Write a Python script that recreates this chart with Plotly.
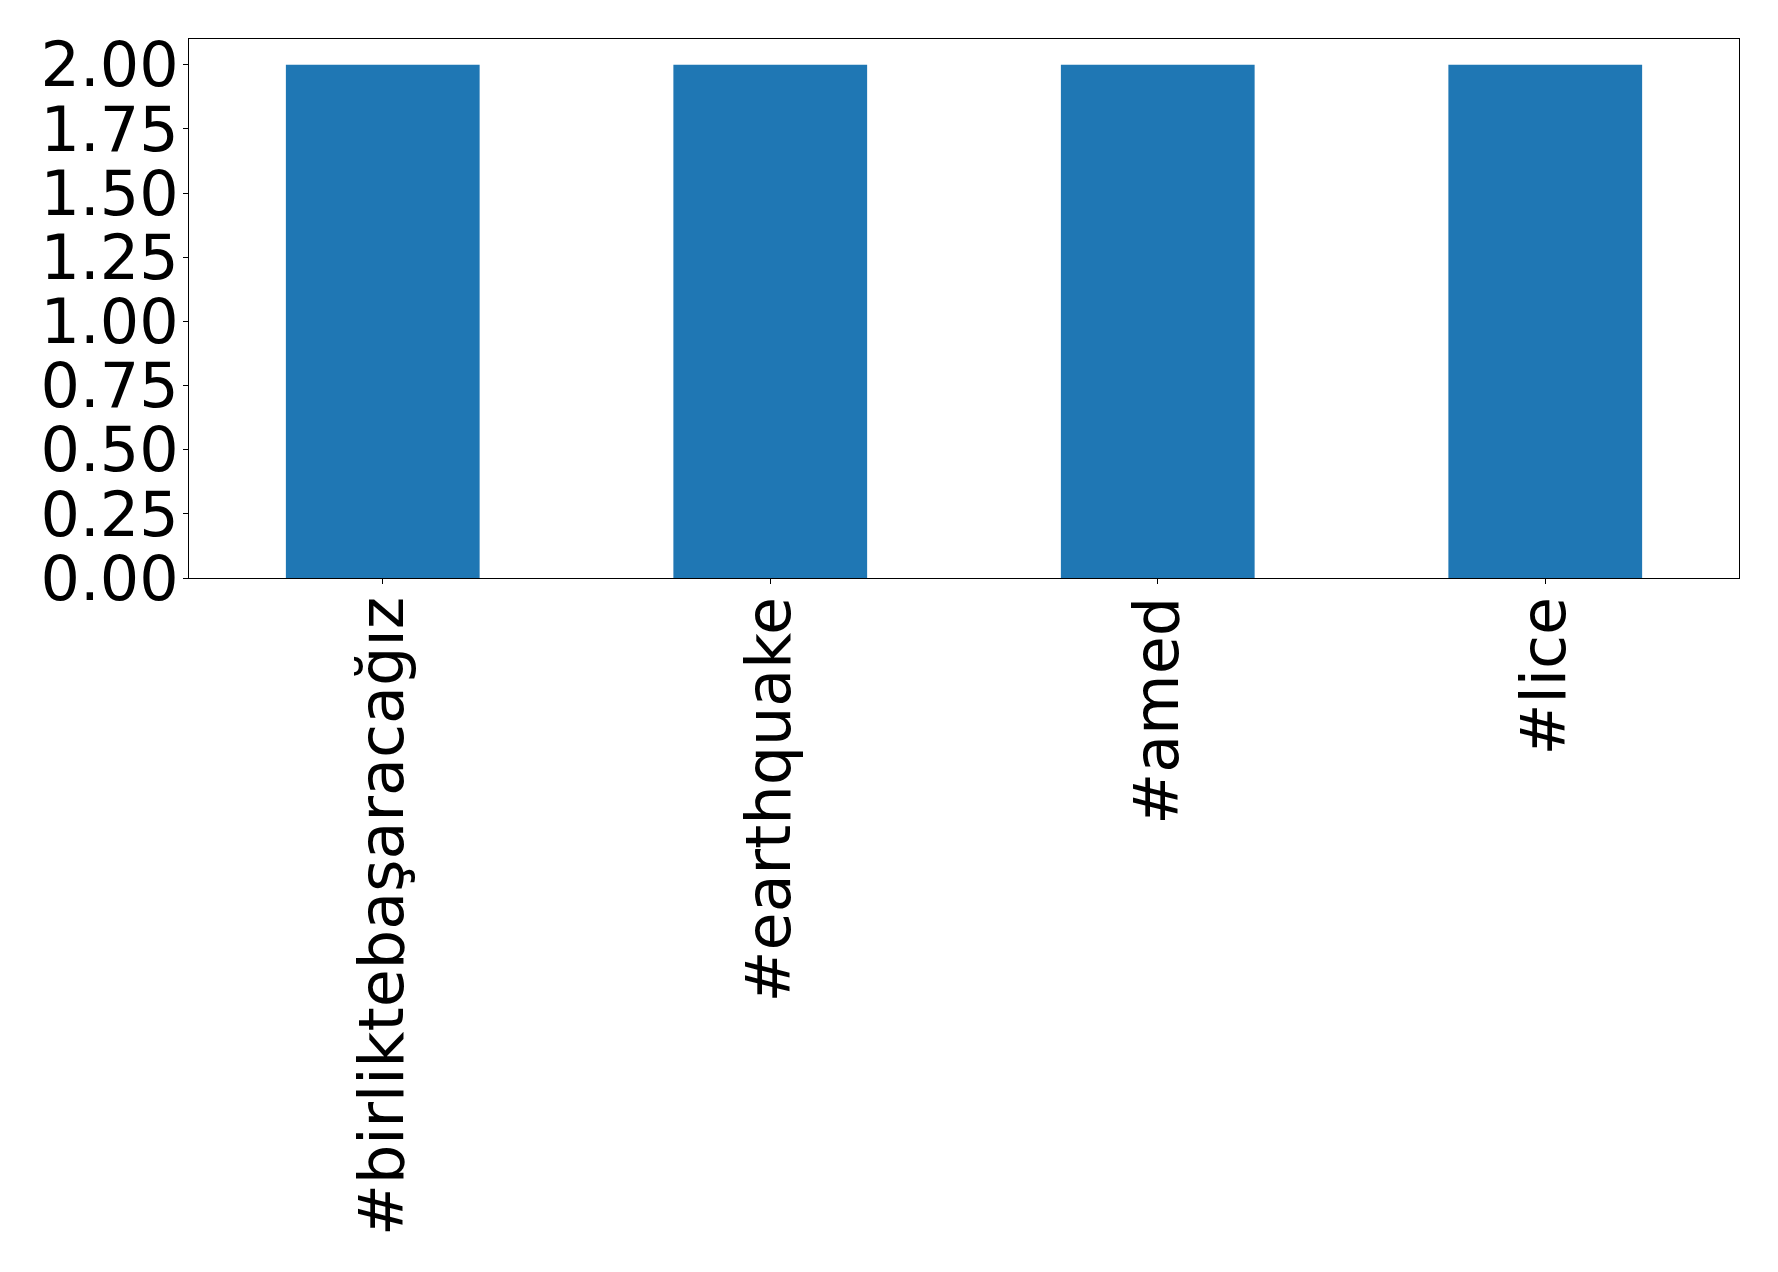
import plotly.graph_objects as go

categories = ["#birliktebaşaracağız", "#earthquake", "#amed", "#lice"]
values = [2, 2, 2, 2]
y_ticks = [0, 0.25, 0.5, 0.75, 1.0, 1.25, 1.5, 1.75, 2.0]
y_tick_labels = ["0.00", "0.25", "0.50", "0.75", "1.00", "1.25", "1.50", "1.75", "2.00"]

fig = go.Figure(go.Bar(x=list(range(len(categories))), y=values, width=0.5,
                       marker=dict(color="#1f77b4", line=dict(width=0))))

fig.update_layout(
    width=1778, height=1272,
    margin=dict(l=181, r=47, t=31, b=702, autoexpand=False),
    plot_bgcolor="white", paper_bgcolor="white",
    font=dict(family="DejaVu Sans", size=62, color="black"),
    showlegend=False,
)
fig.update_xaxes(
    range=[-0.5, 3.5], tickmode="array", tickvals=list(range(len(categories))),
    ticktext=categories, tickangle=-90, ticks="outside", ticklen=5, tickwidth=1,
    tickcolor="black", showline=True, linecolor="black", linewidth=1, mirror=True,
    showgrid=False, zeroline=False, ticklabelstandoff=-12, automargin=False,
)
fig.update_yaxes(
    range=[0, 2.1], tickmode="array", tickvals=y_ticks, ticktext=y_tick_labels,
    ticks="outside", ticklen=5, tickwidth=1, tickcolor="black",
    showline=True, linecolor="black", linewidth=1, mirror=True,
    showgrid=False, zeroline=False, ticklabelstandoff=-8, automargin=False,
)
fig.write_html("out.html")
